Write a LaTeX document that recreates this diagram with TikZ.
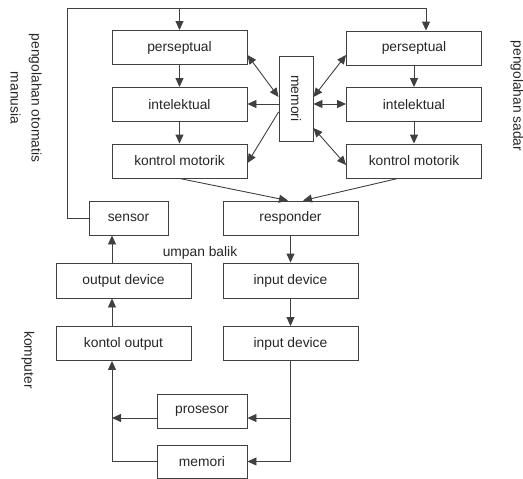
\documentclass[tikz,border=0pt]{standalone}
\usepackage{fontspec}
\setmainfont{Liberation Sans}
\usetikzlibrary{arrows.meta}
\begin{document}
\begin{tikzpicture}[x=1pt,y=-1pt,
    every node/.style={font=\fontsize{13.8}{21}\selectfont, text=black!85},
    kotak/.style={draw=black!75, line width=0.9pt, minimum width=135pt, minimum height=34pt, inner sep=0pt},
    garis/.style={draw=black!75, line width=0.9pt},
    panah/.style={garis, -{Triangle[length=9pt,width=8pt]}},
    duapanah/.style={garis, {Triangle[length=9pt,width=8pt]}-{Triangle[length=9pt,width=8pt]}}]
    \useasboundingbox (0,0) rectangle (523,479);
    \node[kotak] (persL) at (179.5,47.5) {perseptual};
    \node[kotak] (intL) at (179.5,104.5) {intelektual};
    \node[kotak] (motL) at (179.5,161) {kontrol motorik};
    \node[kotak] (persR) at (414,48) {perseptual};
    \node[kotak] (intR) at (414,104.5) {intelektual};
    \node[kotak] (motR) at (414,161) {kontrol motorik};
    \node[kotak, minimum width=34pt, minimum height=85pt] (memA) at (296,98.5) {\rotatebox{-90}{memori}};
    \node[kotak, minimum width=79pt] (sensor) at (128.5,218) {sensor};
    \node[kotak] (resp) at (290.5,218) {responder};
    \node[kotak, minimum height=35pt] (outD) at (123.5,280.5) {output device};
    \node[kotak] (konO) at (123.5,343.5) {kontol output};
    \node[kotak, minimum height=35pt] (indA) at (290.5,280.5) {input device};
    \node[kotak] (indB) at (290.5,343.5) {input device};
    \node[kotak, minimum width=90pt] (pros) at (202,411) {prosesor};
    \node[kotak, minimum width=90pt, minimum height=33pt] (memB) at (202,461.5) {memori};
    \node (umpan) at (200,253) {umpan balik};
    \node[rotate=-90, align=center] (manusia) at (26,98) {pengolahan otomatis\\manusia};
    \node[rotate=-90] (sadar) at (517,96) {pengolahan sadar};
    \node[rotate=-90] (komp) at (28,360) {komputer};

    \draw[panah] (sensor.west) -| (67,8) -| (persR.north -| 426,0);
    \draw[panah] (persL.north |- 0,8) -- (persL.north);
    \draw[panah] (persL) -- (intL);
    \draw[panah] (intL) -- (motL);
    \draw[panah] (persR) -- (intR);
    \draw[panah] (intR) -- (motR);
    \draw[duapanah] (persL.east |- 0,55) -- (memA.west |- 0,97);
    \draw[panah] (memA.west |- 0,104) -- (intL.east |- 0,104);
    \draw[panah] (memA.west |- 0,112) -- (motL.east |- 0,163);
    \draw[duapanah] (memA.east |- 0,97) -- (persR.west |- 0,55);
    \draw[duapanah] (memA.east |- 0,104) -- (intR.west |- 0,104);
    \draw[duapanah] (memA.east |- 0,128) -- (motR.west |- 0,165);
    \draw[panah] (motL.south) -- (resp.north -| 288,0);
    \draw[panah] (motR.south -| 398,0) -- (resp.north -| 303,0);
    \draw[panah] (resp) -- (indA);
    \draw[panah] (indA) -- (indB);
    \draw[panah] (indB.south) |- (memB.east);
    \draw[panah] (indB.south |- 0,418) -- (pros.east |- 0,418);
    \draw[panah] (memB.west) -| (konO.south -| 112,0);
    \draw[panah] (pros.west |- 0,418) -- (112,418);
    \draw[panah] (konO.north -| 112,0) -- (outD.south -| 112,0);
    \draw[panah] (outD.north -| 112,0) -- (sensor.south -| 112,0);
\end{tikzpicture}
\end{document}
